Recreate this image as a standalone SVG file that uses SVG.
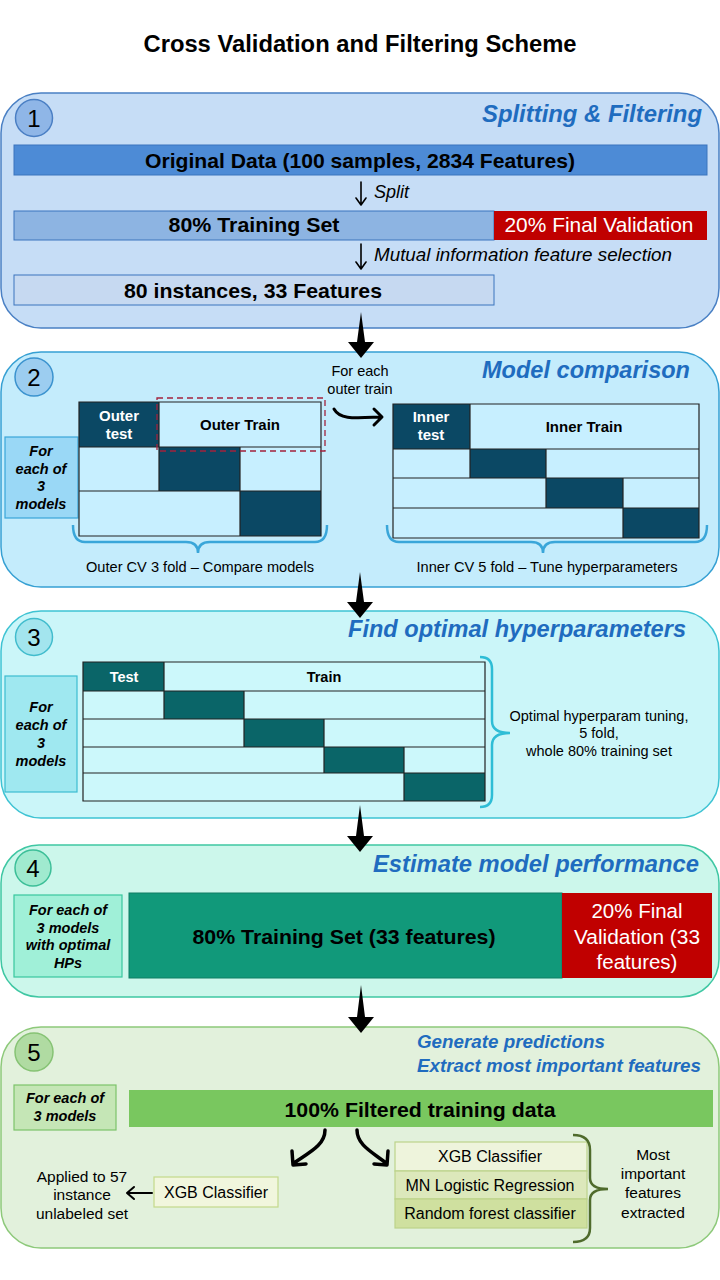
<svg xmlns="http://www.w3.org/2000/svg" width="720" height="1280" viewBox="0 0 720 1280">
<style>
text{font-family:"Liberation Sans",Arial,sans-serif;fill:#000}
.b{font-weight:bold}
.bi{font-weight:bold;font-style:italic}
.i{font-style:italic}
.w{fill:#fff}
.ttl{font-weight:bold;font-style:italic;fill:#1f6cbf}
.mid{text-anchor:middle}
.end{text-anchor:end}
.grid{stroke:#222;stroke-width:1.2}
.d2{fill:#0b4864}
.d3{fill:#0a6568}
.l2{fill:#c7efff}
.l3{fill:#ccf8fb}
.conn{fill:none;stroke:#000;stroke-linecap:round;stroke-linejoin:round}
.big{fill:#000}
</style>
<rect x="0" y="0" width="720" height="1280" fill="#fff"/>
<g id="title"><text x="360" y="52" class="b mid" font-size="23" textLength="433" lengthAdjust="spacingAndGlyphs">Cross Validation and Filtering Scheme</text></g>

<g id="panel1">
<rect x="1" y="93" width="718" height="235" rx="40" fill="#c6ddf6" stroke="#4a80c4" stroke-width="1.5"/>
<circle cx="34" cy="118" r="18.5" fill="#8fb6e7" stroke="#4a7fc4" stroke-width="1.5"/>
<text x="34" y="127" class="mid" font-size="24">1</text>
<text x="702" y="122" class="ttl end" font-size="24" textLength="220" lengthAdjust="spacingAndGlyphs">Splitting &amp; Filtering</text>
</g>
<g id="original-data">
<rect x="14" y="145" width="693" height="30" fill="#4d8bd6" stroke="#3a74bd" stroke-width="1"/>
<text x="360" y="168" class="b mid" font-size="21" textLength="430" lengthAdjust="spacingAndGlyphs">Original  Data (100 samples, 2834 Features)</text>
</g>
<g id="training-set">
<rect x="14" y="211" width="480" height="29" fill="#8db4e2" stroke="#3a74bd" stroke-width="1"/>
<text x="254" y="232" class="b mid" font-size="21" textLength="171" lengthAdjust="spacingAndGlyphs">80% Training Set</text>
</g>
<g id="final-validation">
<rect x="494" y="211" width="213" height="29" fill="#c00000"/>
<text x="599" y="232" class="mid w" font-size="21" textLength="189" lengthAdjust="spacingAndGlyphs">20% Final Validation</text>
</g>
<g id="filtered">
<rect x="14" y="275" width="480" height="30" fill="#c6d9f1" stroke="#3a74bd" stroke-width="1"/>
<text x="253" y="298" class="b mid" font-size="21" textLength="258" lengthAdjust="spacingAndGlyphs">80 instances, 33 Features</text>
</g>
<g id="labels1">
<text x="374" y="198" class="i" font-size="18">Split</text>
<text x="374" y="261" class="i" font-size="18" textLength="298" lengthAdjust="spacingAndGlyphs">Mutual information feature selection</text>
</g>

<g id="panel2">
<rect x="1" y="352" width="718" height="235" rx="40" fill="#c4ecfc" stroke="#36a0d3" stroke-width="1.5"/>
<circle cx="34" cy="377" r="19" fill="#9ccdf0" stroke="#3b93cf" stroke-width="1.5"/>
<text x="34" y="386" class="mid" font-size="24">2</text>
<text x="690" y="378" class="ttl end" font-size="23.5" textLength="208" lengthAdjust="spacingAndGlyphs">Model comparison</text>
<text x="360" y="376" class="mid" font-size="14.5">For each</text>
<text x="360" y="394" class="mid" font-size="14.5">outer train</text>
</g>
<g id="models-box-2">
<rect x="5" y="437" width="73" height="81" fill="#9ad8f6" stroke="#3aa6d9" stroke-width="1.2"/>
<text x="41" y="456" class="bi mid" font-size="14.5">For</text>
<text x="41" y="474" class="bi mid" font-size="14.5">each of</text>
<text x="41" y="491" class="bi mid" font-size="14.5">3</text>
<text x="41" y="509" class="bi mid" font-size="14.5">models</text>
</g>
<g id="outer-cv">
<rect x="79" y="402" width="80" height="45" class="d2"/>
<rect x="159" y="402" width="162" height="45" class="l2"/>
<rect x="79" y="447" width="80" height="44" class="l2"/>
<rect x="159" y="447" width="81" height="44" class="d2"/>
<rect x="240" y="447" width="81" height="44" class="l2"/>
<rect x="79" y="491" width="161" height="45" class="l2"/>
<rect x="240" y="491" width="81" height="45" class="d2"/>
<path class="grid" fill="none" d="M79,402H321V536H79Z M79,447H321 M79,491H321 M159,402V491 M240,447V536"/>
<rect x="157" y="398" width="168" height="53" fill="none" stroke="#a3223c" stroke-width="1.3" stroke-dasharray="6,4"/>
<text x="119" y="421" class="b mid w" font-size="15">Outer</text>
<text x="119" y="439" class="b mid w" font-size="15">test</text>
<text x="240" y="430" class="b mid" font-size="15">Outer Train</text>
<path d="M73,525 Q73,542 85,542 L186,542 Q198,542 198,553 Q198,542 210,542 L315,542 Q327,542 327,525" fill="none" stroke="#3aa6d9" stroke-width="2.5"/>
<text x="200" y="572" class="mid" font-size="14.5" textLength="228" lengthAdjust="spacingAndGlyphs">Outer CV 3 fold – Compare models</text>
</g>
<g id="inner-cv">
<rect x="393" y="404" width="77" height="45" class="d2"/>
<rect x="470" y="404" width="229" height="45" class="l2"/>
<rect x="393" y="449" width="77" height="29" class="l2"/>
<rect x="470" y="449" width="76" height="29" class="d2"/>
<rect x="546" y="449" width="153" height="29" class="l2"/>
<rect x="393" y="478" width="153" height="30" class="l2"/>
<rect x="546" y="478" width="77" height="30" class="d2"/>
<rect x="623" y="478" width="76" height="30" class="l2"/>
<rect x="393" y="508" width="230" height="30" class="l2"/>
<rect x="623" y="508" width="76" height="30" class="d2"/>
<path class="grid" fill="none" d="M393,404H699V538H393Z M393,449H699 M393,478H699 M393,508H699 M470,404V478 M546,449V508 M623,478V538"/>
<text x="431" y="422" class="b mid w" font-size="15">Inner</text>
<text x="431" y="440" class="b mid w" font-size="15">test</text>
<text x="584" y="432" class="b mid" font-size="15">Inner Train</text>
<path d="M387,525 Q387,542 399,542 L531,542 Q543,542 543,553 Q543,542 555,542 L695,542 Q707,542 707,525" fill="none" stroke="#3aa6d9" stroke-width="2.5"/>
<text x="547" y="572" class="mid" font-size="14.5" textLength="261" lengthAdjust="spacingAndGlyphs">Inner CV 5 fold – Tune hyperparameters</text>
</g>

<g id="panel3">
<rect x="1" y="611" width="718" height="207" rx="40" fill="#cbf6f9" stroke="#3ec3d3" stroke-width="1.5"/>
<circle cx="34" cy="637" r="18.5" fill="#a3e5ee" stroke="#41bccd" stroke-width="1.5"/>
<text x="34" y="646" class="mid" font-size="24">3</text>
<text x="686" y="637" class="ttl end" font-size="23.5" textLength="338" lengthAdjust="spacingAndGlyphs">Find optimal hyperparameters</text>
</g>
<g id="models-box-3">
<rect x="5" y="676" width="72" height="116" fill="#9fe8f0" stroke="#3cbcd0" stroke-width="1.2"/>
<text x="41" y="712" class="bi mid" font-size="14.5">For</text>
<text x="41" y="730" class="bi mid" font-size="14.5">each of</text>
<text x="41" y="748" class="bi mid" font-size="14.5">3</text>
<text x="41" y="766" class="bi mid" font-size="14.5">models</text>
</g>
<g id="tuning-cv">
<rect x="83" y="662" width="81" height="29" class="d3"/>
<rect x="164" y="662" width="321" height="29" class="l3"/>
<rect x="83" y="691" width="81" height="28" class="l3"/>
<rect x="164" y="691" width="80" height="28" class="d3"/>
<rect x="244" y="691" width="241" height="28" class="l3"/>
<rect x="83" y="719" width="161" height="28" class="l3"/>
<rect x="244" y="719" width="80" height="28" class="d3"/>
<rect x="324" y="719" width="161" height="28" class="l3"/>
<rect x="83" y="747" width="241" height="26" class="l3"/>
<rect x="324" y="747" width="80" height="26" class="d3"/>
<rect x="404" y="747" width="81" height="26" class="l3"/>
<rect x="83" y="773" width="321" height="28" class="l3"/>
<rect x="404" y="773" width="81" height="28" class="d3"/>
<path class="grid" fill="none" d="M83,662H485V801H83Z M83,691H485 M83,719H485 M83,747H485 M83,773H485 M164,662V719 M244,691V747 M324,719V773 M404,747V801"/>
<text x="124" y="682" class="b mid w" font-size="14.5">Test</text>
<text x="324" y="682" class="b mid" font-size="14.5">Train</text>
<path d="M480,657 Q492,657 492,669 L492,721 Q492,733 510,733 Q492,733 492,745 L492,795 Q492,807 480,807" fill="none" stroke="#2ebdd6" stroke-width="2.5"/>
<text x="599" y="721" class="mid" font-size="14.5">Optimal hyperparam tuning,</text>
<text x="599" y="738" class="mid" font-size="14.5">5 fold,</text>
<text x="599" y="756" class="mid" font-size="14.5">whole 80% training set</text>
</g>

<g id="panel4">
<rect x="1" y="845" width="718" height="152" rx="38" fill="#ccf7eb" stroke="#3fc7a3" stroke-width="1.5"/>
<circle cx="33" cy="868" r="18" fill="#a0eacf" stroke="#3cbf98" stroke-width="1.5"/>
<text x="33" y="877" class="mid" font-size="24">4</text>
<text x="699" y="872" class="ttl end" font-size="24" textLength="326" lengthAdjust="spacingAndGlyphs">Estimate model performance</text>
</g>
<g id="models-box-4">
<rect x="14" y="895" width="108" height="82" fill="#a0f0d8" stroke="#38c79e" stroke-width="1.2"/>
<text x="68" y="915" class="bi mid" font-size="14.5">For each of</text>
<text x="68" y="933" class="bi mid" font-size="14.5">3 models</text>
<text x="68" y="950" class="bi mid" font-size="14.5">with optimal</text>
<text x="68" y="968" class="bi mid" font-size="14.5">HPs</text>
</g>
<g id="training-33">
<rect x="129" y="893" width="433" height="85" fill="#11997a" stroke="#0e7f64" stroke-width="1"/>
<text x="344" y="944" class="b mid" font-size="20.5" textLength="303" lengthAdjust="spacingAndGlyphs">80% Training Set (33 features)</text>
</g>
<g id="validation-33">
<rect x="562" y="893" width="150" height="85" fill="#c00000"/>
<text x="637" y="918" class="mid w" font-size="20.5">20% Final</text>
<text x="637" y="944" class="mid w" font-size="20.5" textLength="126" lengthAdjust="spacingAndGlyphs">Validation (33</text>
<text x="637" y="969" class="mid w" font-size="20.5">features)</text>
</g>

<g id="panel5">
<rect x="1" y="1027" width="718" height="221" rx="40" fill="#e2f1dc" stroke="#8dc97a" stroke-width="1.5"/>
<circle cx="34" cy="1052" r="19" fill="#b0dba2" stroke="#86c374" stroke-width="1.5"/>
<text x="34" y="1061" class="mid" font-size="24">5</text>
<text x="417" y="1048" class="ttl" font-size="19" textLength="188" lengthAdjust="spacingAndGlyphs">Generate predictions</text>
<text x="417" y="1072" class="ttl" font-size="19" textLength="284" lengthAdjust="spacingAndGlyphs">Extract most important features</text>
</g>
<g id="models-box-5">
<rect x="14" y="1085" width="102" height="45" fill="#c5e6b6" stroke="#7cc46a" stroke-width="1.2"/>
<text x="65" y="1103" class="bi mid" font-size="14.5">For each of</text>
<text x="65" y="1121" class="bi mid" font-size="14.5">3 models</text>
</g>
<g id="full-training">
<rect x="129" y="1090" width="584" height="37" fill="#79c75f"/>
<text x="420" y="1117" class="b mid" font-size="20.5" textLength="271" lengthAdjust="spacingAndGlyphs">100% Filtered training data</text>
</g>
<g id="xgb-predict">
<rect x="154" y="1177" width="124" height="30" fill="#f1f6dd" stroke="#c4d98a" stroke-width="1.2"/>
<text x="216" y="1198" class="mid" font-size="16">XGB Classifier</text>
</g>
<g id="unlabeled">
<text x="82" y="1182" class="mid" font-size="15.5">Applied to 57</text>
<text x="82" y="1200" class="mid" font-size="15.5">instance</text>
<text x="82" y="1219" class="mid" font-size="15.5">unlabeled set</text>
</g>
<g id="classifiers">
<rect x="395" y="1142" width="192" height="29" fill="#eef4dc" stroke="#bcd28a" stroke-width="1.2"/>
<rect x="395" y="1171" width="192" height="28" fill="#dce8bb" stroke="#bcd28a" stroke-width="1.2"/>
<rect x="395" y="1199" width="192" height="29" fill="#cfe09f" stroke="#bcd28a" stroke-width="1.2"/>
<text x="490" y="1162" class="mid" font-size="16">XGB Classifier</text>
<text x="490" y="1191" class="mid" font-size="16">MN Logistic Regression</text>
<text x="490" y="1219" class="mid" font-size="16">Random forest classifier</text>
<path d="M573,1135 Q590,1135 590,1150 L590,1178 Q590,1189 608,1189 Q590,1189 590,1200 L590,1228 Q590,1242 573,1242" fill="none" stroke="#4f6b2c" stroke-width="2.5"/>
</g>
<g id="important-features">
<text x="653" y="1160" class="mid" font-size="15.5">Most</text>
<text x="653" y="1179" class="mid" font-size="15.5">important</text>
<text x="653" y="1198" class="mid" font-size="15.5">features</text>
<text x="653" y="1218" class="mid" font-size="15.5">extracted</text>
</g>

<g id="connectors">
<path class="conn" stroke-width="1.6" d="M361,182 L361,204 M356,198 L361,205 L366,198"/>
<path class="conn" stroke-width="1.6" d="M361,244 L361,268 M356,262 L361,269 L366,262"/>
<polygon class="big" points="361,312 365,342 374,342 361,358 348,342 357,342"/>
<polygon class="big" points="360,572 364,602 373,602 360,618 347,602 356,602"/>
<polygon class="big" points="360,805 364,836 373,836 360,852 347,836 356,836"/>
<polygon class="big" points="361,985 365,1017 374,1017 361,1033 348,1017 357,1017"/>
<path class="conn" stroke-width="3" d="M334,409 C340,420 355,418 381,417 M374,409 L382,417 L374,425"/>
<path class="conn" stroke-width="3.5" d="M325,1130 C325,1145 310,1152 294,1163 M292,1151 L293,1165 L306,1164"/>
<path class="conn" stroke-width="3.5" d="M357,1130 C357,1145 372,1152 386,1163 M388,1151 L387,1165 L374,1164"/>
<path class="conn" stroke-width="2" d="M152,1193 L127,1193 M134,1187 L127,1193 L134,1199"/>
</g>
</svg>
